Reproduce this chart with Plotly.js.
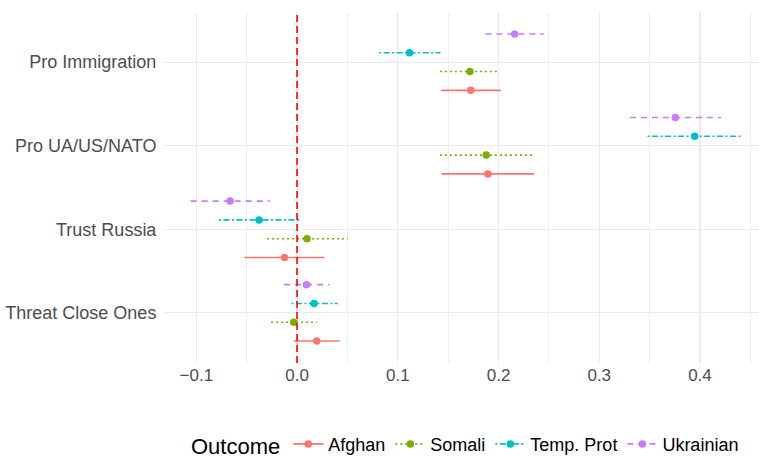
<!DOCTYPE html>
<html>
<head>
<meta charset="utf-8">
<script src="https://cdn.plot.ly/plotly-3.0.1.min.js"></script>
<style>
html,body{margin:0;padding:0;background:#fff;overflow:hidden;}
#chart{width:759px;height:458px;}
</style>
</head>
<body>
<div id="chart"></div>
<script>
// Categories (top to bottom)
const categories = ["Pro Immigration", "Pro UA/US/NATO", "Trust Russia", "Threat Close Ones"];
const outcomes = ["Afghan", "Somali", "Temp. Prot", "Ukrainian"];

// Estimates and confidence bounds per outcome, ordered as categories
const afghanEst = [0.1725, 0.1894, -0.0125, 0.0196];
const afghanLo  = [0.1430, 0.1434, -0.0523, -0.0033];
const afghanHi  = [0.2023, 0.2354, 0.0272, 0.0424];

const somaliEst = [0.1716, 0.1878, 0.0099, -0.0033];
const somaliLo  = [0.1418, 0.1418, -0.0298, -0.0258];
const somaliHi  = [0.2010, 0.2335, 0.0504, 0.0196];

const tempEst = [0.1116, 0.3947, -0.0377, 0.0169];
const tempLo  = [0.0815, 0.3480, -0.0775, -0.0056];
const tempHi  = [0.1424, 0.4414, 0.0030, 0.0404];

const ukrEst = [0.2160, 0.3755, -0.0665, 0.0093];
const ukrLo  = [0.1870, 0.3305, -0.1056, -0.0129];
const ukrHi  = [0.2450, 0.4209, -0.0271, 0.0321];

const xTickVals = [-0.1, 0.0, 0.1, 0.2, 0.3, 0.4];
const xTickText = ["\u22120.1", "0.0", "0.1", "0.2", "0.3", "0.4"];

const series = [
  {name: outcomes[0], est: afghanEst, lo: afghanLo, hi: afghanHi, color: "#F8766D", dash: "solid"},
  {name: outcomes[1], est: somaliEst, lo: somaliLo, hi: somaliHi, color: "#7CAE00", dash: "2px,3px"},
  {name: outcomes[2], est: tempEst,   lo: tempLo,   hi: tempHi,   color: "#00BFC4", dash: "2px,2.5px,6px,2.5px"},
  {name: outcomes[3], est: ukrEst,    lo: ukrLo,    hi: ukrHi,    color: "#C77CFF", dash: "6px,5px"}
];

const nCat = categories.length;
const catPos = categories.map((c, i) => nCat - i);
const dodgeWidth = 0.9;
const nSer = series.length;

const traces = [];
series.forEach((s, k) => {
  const off = (k - (nSer - 1) / 2) * dodgeWidth / nSer;
  const ys = catPos.map(p => p + off);
  const ex = [], ey = [];
  s.lo.forEach((lo, i) => { ex.push(lo, s.hi[i], null); ey.push(ys[i], ys[i], null); });
  traces.push({
    type: "scatter", mode: "lines", x: ex, y: ey,
    line: {color: s.color, width: 1.6, dash: s.dash},
    legendgroup: s.name, showlegend: false, hoverinfo: "skip"
  });
  const px = [], py = [];
  s.est.forEach((v, i) => { px.push(v, null); py.push(ys[i], null); });
  traces.push({
    type: "scatter", mode: "lines+markers", x: px, y: py, name: s.name,
    connectgaps: false,
    line: {color: s.color, width: 1.6, dash: s.dash},
    marker: {color: s.color, size: 7.5},
    legendgroup: s.name
  });
});

const layout = {
  width: 759, height: 458,
  margin: {l: 164.3, r: 0, t: 11.8, b: 94.7, autoexpand: false},
  paper_bgcolor: "#ffffff", plot_bgcolor: "#ffffff",
  font: {family: "Liberation Sans, Arial, sans-serif", color: "#4D4D4D"},
  showlegend: true,
  xaxis: {
    range: [-0.1321, 0.4586],
    tickvals: xTickVals, ticktext: xTickText,
    tickfont: {size: 17, color: "#4D4D4D"},
    showgrid: true, gridcolor: "#EBEBEB", gridwidth: 1.2,
    minor: {dtick: 0.05, tick0: 0, showgrid: true, gridcolor: "#EBEBEB", gridwidth: 0.8},
    zeroline: false, showline: false,
    ticks: "", automargin: false
  },
  yaxis: {
    range: [0.4, nCat + 0.6],
    tickvals: catPos, ticktext: categories,
    tickfont: {size: 18, color: "#4D4D4D"},
    showgrid: true, gridcolor: "#EBEBEB", gridwidth: 1.2,
    zeroline: false, showline: false,
    ticks: "outside", ticklen: 3, tickcolor: "rgba(0,0,0,0)", automargin: false
  },
  shapes: [{
    type: "line", xref: "x", yref: "paper", x0: 0, x1: 0, y0: 0, y1: 1,
    line: {color: "#FF0000", width: 1.6, dash: "7px,4px"}
  }],
  legend: {
    orientation: "h", xref: "container", yref: "container",
    x: 0.249, xanchor: "left", y: 0.028, yanchor: "middle",
    bgcolor: "rgba(0,0,0,0)",
    title: {text: "Outcome", side: "left", font: {size: 22, color: "#000000"}},
    font: {size: 18, color: "#000000"},
    itemwidth: 30, tracegroupgap: 0
  }
};

Plotly.newPlot("chart", traces, layout, {displayModeBar: false, staticPlot: true});
</script>
</body>
</html>
